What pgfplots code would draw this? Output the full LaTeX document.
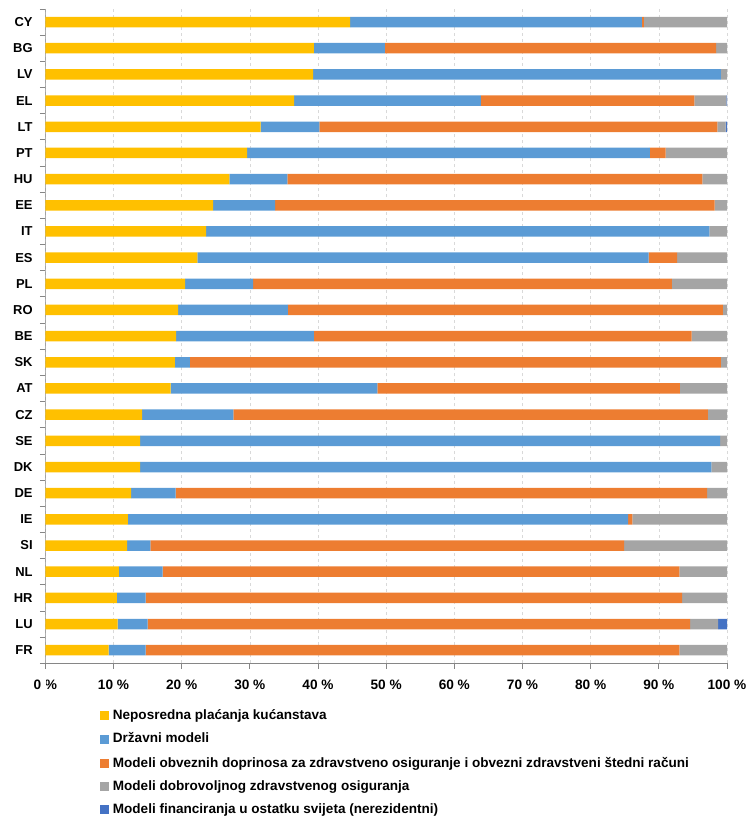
\documentclass[border=0pt]{standalone}
\usepackage{pgfplots}
\pgfplotsset{compat=1.18}
\usepackage{pgfplotstable}
\usepackage{fontspec}
\setmainfont{Liberation Sans}
\definecolor{cY}{HTML}{FFC000}
\definecolor{cB}{HTML}{5B9BD5}
\definecolor{cO}{HTML}{ED7D31}
\definecolor{cG}{HTML}{A5A5A5}
\definecolor{cR}{HTML}{4472C4}
\definecolor{axgray}{HTML}{868686}
\definecolor{gridc}{HTML}{D9D9D9}
\pgfplotstableread{
idx Y B O G R
0 9.3 5.4 78.3 7.0 0
1 10.6 4.4 79.6 4.1 1.3
2 10.5 4.2 78.7 6.6 0
3 10.8 6.4 75.8 7.0 0
4 12.0 3.4 69.5 15.1 0
5 12.1 73.4 0.6 13.9 0
6 12.6 6.5 78.0 2.9 0
7 13.9 83.8 0 2.3 0
8 13.9 85.1 0 1.0 0
9 14.2 13.4 69.6 2.8 0
10 18.4 30.3 44.4 6.9 0
11 19.0 2.2 77.9 0.9 0
12 19.2 20.2 55.4 5.2 0
13 19.5 16.1 63.8 0.6 0
14 20.5 10.0 61.4 8.1 0
15 22.3 66.2 4.2 7.3 0
16 23.6 73.8 0 2.6 0
17 24.6 9.1 64.5 1.8 0
18 27.0 8.5 60.9 3.6 0
19 29.6 59.1 2.3 9.0 0
20 31.6 8.6 58.4 1.2 0.2
21 36.5 27.4 31.3 4.7 0.1
22 39.3 59.8 0 0.9 0
23 39.4 10.4 48.6 1.6 0
24 44.7 42.8 0.3 12.2 0
}\data
\begin{document}
\begin{tikzpicture}
\path[use as bounding box] (0,0) rectangle (755bp,824bp);
\begin{axis}[
  at={(45.3bp,160.7bp)}, anchor=south west,
  scale only axis, width=681.7bp, height=654.3bp,
  xbar stacked, bar width=10.5bp,
  xmin=0, xmax=100, ymin=-0.5, ymax=24.5,
  enlargelimits=false,
  axis line style={draw=none},
  xtick pos=bottom, ytick pos=left,
  xtick={0,10,...,100},
  xticklabels={0 \%,10 \%,20 \%,30 \%,40 \%,50 \%,60 \%,70 \%,80 \%,90 \%,100 \%},
  ytick={-0.5,0.5,...,24.5},
  yticklabels={FR,LU,HR,NL,SI,IE,DE,DK,SE,CZ,AT,SK,BE,RO,PL,ES,IT,EE,HU,PT,LT,EL,LV,BG,CY},
  y tick label as interval,
  tick align=outside,
  major tick length=5.5bp,
  tick style={axgray, line width=0.8bp},
  xmajorgrids=true, ymajorgrids=false,
  x grid style={color=gridc, dashed, line width=0.6bp},
  /pgf/number format/assume math mode=true,
  xticklabel style={font=\bfseries\fontsize{13.7}{15}\selectfont, inner sep=0pt, yshift=-11bp},
  yticklabel style={font=\bfseries\fontsize{13}{15}\selectfont, inner sep=0pt, xshift=-7bp},
]
\addplot[fill=cY, draw=none] table[x=Y, y=idx] {\data};
\addplot[fill=cB, draw=none] table[x=B, y=idx] {\data};
\addplot[fill=cO, draw=none] table[x=O, y=idx] {\data};
\addplot[fill=cG, draw=none] table[x=G, y=idx] {\data};
\addplot[fill=cR, draw=none] table[x=R, y=idx] {\data};
\draw[axgray, line width=0.8bp] (rel axis cs:0,1) -- (rel axis cs:0,0) -- (rel axis cs:1,0);
\end{axis}
\fill[white] (44.2bp,30bp) rectangle (46.4bp,154.6bp);
\begin{scope}[every node/.style={anchor=west, inner sep=0pt, text height=9.6bp, text depth=2.7bp, font=\bfseries\fontsize{13.6}{15}\selectfont}]
\fill[cY] (100bp,103.8bp) rectangle (109bp,112.8bp);
\node at (112.7bp,108.3bp) {Neposredna plaćanja kućanstava};
\fill[cB] (100bp,80.2bp) rectangle (109bp,89.2bp);
\node at (112.7bp,84.7bp) {Državni modeli};
\fill[cO] (100bp,55.5bp) rectangle (109bp,64.5bp);
\node at (112.7bp,60bp) {Modeli obveznih doprinosa za zdravstveno osiguranje i obvezni zdravstveni štedni računi};
\fill[cG] (100bp,32.8bp) rectangle (109bp,41.8bp);
\node at (112.7bp,37.3bp) {Modeli dobrovoljnog zdravstvenog osiguranja};
\fill[cR] (100bp,9.5bp) rectangle (109bp,18.5bp);
\node at (112.7bp,14bp) {Modeli financiranja u ostatku svijeta (nerezidentni)};
\end{scope}
\end{tikzpicture}
\end{document}
